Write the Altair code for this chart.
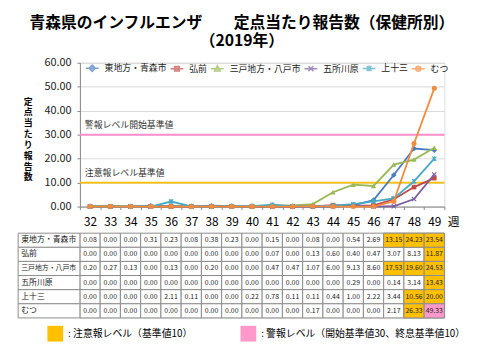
import altair as alt
import pandas as pd

FONT = "Noto Sans CJK JP"

weeks = [32, 33, 34, 35, 36, 37, 38, 39, 40, 41, 42, 43, 44, 45, 46, 47, 48, 49]
names = ["東地方・青森市", "弘前", "三戸地方・八戸市", "五所川原", "上十三", "むつ"]
aomori = [0.08, 0.00, 0.00, 0.31, 0.23, 0.08, 0.38, 0.23, 0.00, 0.15, 0.00, 0.08, 0.00, 0.54, 2.69, 13.15, 24.23, 23.54]
hirosaki = [0.00, 0.00, 0.00, 0.00, 0.00, 0.00, 0.00, 0.00, 0.00, 0.07, 0.00, 0.13, 0.60, 0.40, 0.47, 3.07, 8.13, 11.87]
hachinohe = [0.20, 0.27, 0.13, 0.00, 0.13, 0.00, 0.20, 0.00, 0.00, 0.47, 0.47, 1.07, 6.00, 9.13, 8.60, 17.53, 19.60, 24.53]
goshogawara = [0.00, 0.00, 0.00, 0.00, 0.00, 0.00, 0.00, 0.00, 0.00, 0.00, 0.00, 0.00, 0.00, 0.29, 0.00, 0.14, 3.14, 13.43]
kamitosa = [0.00, 0.00, 0.00, 0.00, 2.11, 0.11, 0.00, 0.00, 0.22, 0.78, 0.11, 0.11, 0.44, 1.00, 2.22, 3.44, 10.56, 20.00]
mutsu = [0.00, 0.00, 0.00, 0.00, 0.00, 0.00, 0.00, 0.00, 0.00, 0.00, 0.00, 0.17, 0.00, 0.00, 0.00, 2.17, 26.33, 49.33]
series_values = [aomori, hirosaki, hachinohe, goshogawara, kamitosa, mutsu]

colors = ["#4A7EBB", "#BE4B48", "#98B954", "#7D60A0", "#46AAC5", "#F38A3C"]
ref_levels = [10, 30]
ref_labels = ["注意報レベル基準値", "警報レベル開始基準値"]
ref_colors = ["#FFC000", "#FF8FCF"]
level_labels = [": 注意報レベル（基準値10）", ": 警報レベル（開始基準値30、終息基準値10）"]
level_colors = ["#FFC000", "#FF99CC"]
y_ticks = [0, 10, 20, 30, 40, 50, 60]

rows = []
for s, vals in zip(names, series_values):
    for i, (w, v) in enumerate(zip(weeks, vals)):
        rows.append({"series": s, "week": w, "idx": i, "value": v})
df = pd.DataFrame(rows)

W = 370
H = 146

y_scale = alt.Scale(domain=[0, 60], nice=False)
x_enc = alt.X(
    "week:O",
    scale=alt.Scale(domain=weeks, paddingInner=0, paddingOuter=0),
    axis=alt.Axis(
        title="週", titleX=W + 3, titleY=15, titleAlign="left", titleBaseline="middle",
        titleFontSize=12, titleFontWeight="normal", titleColor="#000", titleFont=FONT,
        labelAngle=0, labelFontSize=12, labelColor="#000", labelFont=FONT,
        labelBaseline="middle", labelPadding=12, tickBand="extent", tickSize=3,
        tickColor="#888", domainColor="#888", grid=False, labelOverlap=False,
    ),
)
y_axis = alt.Axis(
    values=y_ticks, format=".2f", labelOverlap=False,
    title=list("定点当たり報告数"), titleAngle=0, titleX=-53, titleY=35,
    titleBaseline="top", titleAlign="center", titleFontSize=9, titleLineHeight=11,
    titleFontWeight="bold", titleColor="#000", titleFont=FONT,
    labelFontSize=11, labelColor="#222", labelFont=FONT, labelPadding=6,
    tickSize=3, tickColor="#888", domainColor="#888",
    grid=True, gridColor="#D9D9D9",
)
y_enc = alt.Y("value:Q", scale=y_scale, axis=y_axis)

layers = []

ref_df = pd.DataFrame({"level": ref_levels, "label": ref_labels})
for lv, lab, c in zip(ref_levels, ref_labels, ref_colors):
    d = ref_df[ref_df["level"] == lv]
    ry = alt.Y("level:Q", scale=y_scale, axis=y_axis)
    layers.append(alt.Chart(d).mark_rule(color=c, strokeWidth=2).encode(y=ry))
    layers.append(
        alt.Chart(d).mark_text(align="left", baseline="middle", dy=-10, fontSize=9, color="#333", font=FONT)
        .encode(y=ry, x=alt.value(5), text="label:N")
    )

marker_defs = [
    dict(shape="diamond", filled=True, size=32),
    dict(shape="square", filled=True, size=22),
    dict(shape="triangle-up", filled=True, size=28),
    dict(shape="M-1,-1L1,1M-1,1L1,-1", filled=False, size=18, strokeWidth=1.2),
    dict(shape="M-1,-1L1,1M-1,1L1,-1M0,-1.2V1.2", filled=False, size=18, strokeWidth=1.2),
    dict(shape="circle", filled=True, size=26),
]

base = alt.Chart(df)
for s, c, md in zip(names, colors, marker_defs):
    sub = base.transform_filter(alt.datum.series == s)
    layers.append(sub.mark_line(strokeWidth=1.8, color=c).encode(x=x_enc, y=y_enc, order="idx:Q"))
    layers.append(sub.mark_point(color=c, opacity=1, **md).encode(x=x_enc, y=y_enc))

L = "M-2.6,0H2.6"
legend_paths = [
    L + "M0,-1.3L1.3,0L0,1.3L-1.3,0Z",
    L + "M-0.95,-0.95H0.95V0.95H-0.95Z",
    L + "M0,-1.2L1.2,1H-1.2Z",
    L + "M-1,-1L1,1M-1,1L1,-1",
    L + "M-1,-1L1,1M-1,1L1,-1M0,-1.2V1.2",
    L + "M1,0A1,1,0,1,1,-1,0A1,1,0,1,1,1,0Z",
]
leg = alt.Legend(
    title=None, orient="none", legendX=4, legendY=1, direction="horizontal",
    symbolSize=25, symbolStrokeWidth=1.5, symbolOffset=4, labelOffset=8,
    labelFontSize=9, labelFont=FONT, labelColor="#222", columnPadding=0,
)
legend_df = pd.DataFrame({"series": names})
layers.append(
    alt.Chart(legend_df).mark_point(filled=True, size=0, strokeWidth=0)
    .encode(
        x=alt.value(0), y=alt.value(0),
        fill=alt.Fill("series:N", scale=alt.Scale(domain=names, range=colors), legend=leg),
        stroke=alt.Stroke("series:N", scale=alt.Scale(domain=names, range=colors), legend=leg),
        shape=alt.Shape("series:N", scale=alt.Scale(domain=names, range=legend_paths), legend=leg),
    )
)

top = alt.layer(*layers).properties(width=W, height=H)

# ---- table ----
tx = alt.X("idx:Q", scale=alt.Scale(domain=[0, 18], nice=False, zero=False), axis=None)
ty = alt.Y("series:N", sort=names, scale=alt.Scale(domain=names, paddingInner=0, paddingOuter=0), axis=None)
tbase = alt.Chart(df).transform_calculate(idx2="datum.idx + 1", mid="datum.idx + 0.5")
cells = tbase.mark_rect(fill="white", stroke="#8C8C8C", strokeWidth=1).encode(x=tx, x2="idx2:Q", y=ty)
hi = (
    tbase.transform_filter("datum.value >= 10")
    .transform_calculate(level=f"datum.value >= 30 ? '{level_labels[1]}' : '{level_labels[0]}'")
    .mark_rect(stroke="#8C8C8C", strokeWidth=1)
    .encode(
        x=tx, x2="idx2:Q", y=ty,
        color=alt.Color(
            "level:N", scale=alt.Scale(domain=level_labels, range=level_colors),
            legend=alt.Legend(
                title=None, orient="none", legendX=-33, legendY=94, direction="horizontal",
                symbolType="square", symbolSize=256, symbolStrokeWidth=0, labelFontSize=10,
                labelFont=FONT, labelColor="#000", labelOffset=5, columnPadding=48,
                symbolOpacity=1, labelLimit=400,
            ),
        ),
    )
)
txt = tbase.mark_text(fontSize=7, color="#222", font=FONT).encode(
    x=alt.X("mid:Q", scale=alt.Scale(domain=[0, 18], nice=False, zero=False), axis=None),
    y=ty, text=alt.Text("value:Q", format=".2f"),
)
name_df = pd.DataFrame({"series": names})
name_cells = alt.Chart(name_df).mark_rect(fill="white", stroke="#8C8C8C", strokeWidth=1).encode(
    x=alt.datum(-3.05), x2=alt.datum(0), y=ty
)
name_txt = alt.Chart(name_df).mark_text(align="left", color="#222", font=FONT).encode(
    x=alt.datum(-2.9), y=ty, text="series:N",
    size=alt.condition("datum.series == '三戸地方・八戸市'", alt.value(7), alt.value(8)),
)
table = alt.layer(cells, hi, txt, name_cells, name_txt).properties(width=W, height=86)

chart = (
    alt.vconcat(top, table, spacing=4)
    .resolve_scale(color="independent", fill="independent", stroke="independent", shape="independent")
    .resolve_legend(color="independent", fill="independent", stroke="independent", shape="independent")
    .properties(
        title=alt.TitleParams(
            text=["青森県のインフルエンザ　　定点当たり報告数（保健所別）", "（2019年）"],
            fontSize=16, fontWeight="bold", font=FONT, color="#000", anchor="middle",
            lineHeight=18, offset=8,
        ),
        padding={"left": 9, "top": 4, "right": 5, "bottom": 5},
    )
    .configure_view(stroke=None)
    .configure(font=FONT)
)

chart.save("out.html", embed_options={"renderer": "svg", "actions": False})
